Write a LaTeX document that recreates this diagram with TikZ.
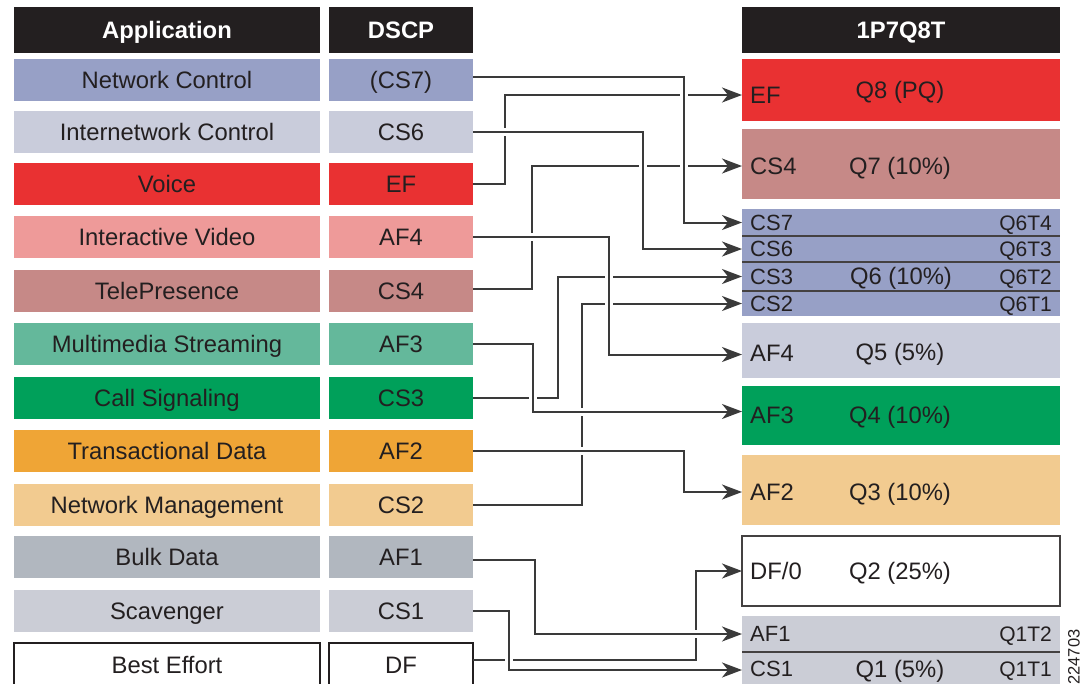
\documentclass[tikz,border=0pt]{standalone}
\usepackage{fontspec}
\setmainfont{Liberation Sans}
\usetikzlibrary{arrows.meta}
\definecolor{txt}{HTML}{231F20}
\definecolor{hdrc}{HTML}{231F20}
\definecolor{linec}{HTML}{3A3A3A}
\definecolor{cNC}{HTML}{97A0C6}
\definecolor{cIC}{HTML}{C9CCDB}
\definecolor{cVO}{HTML}{E93132}
\definecolor{cIV}{HTML}{EE9A99}
\definecolor{cTP}{HTML}{C68987}
\definecolor{cMS}{HTML}{64B89B}
\definecolor{cCS}{HTML}{00A05A}
\definecolor{cTD}{HTML}{EFA536}
\definecolor{cNM}{HTML}{F2CB90}
\definecolor{cBD}{HTML}{B1B7BF}
\definecolor{cSC}{HTML}{CBCDD6}
\newcommand{\fsA}{\fontsize{23.8}{28}\selectfont}
\newcommand{\fsB}{\fontsize{22}{26}\selectfont}
\newcommand{\fsC}{\fontsize{21}{25}\selectfont}
\begin{document}
\begin{tikzpicture}[x=1pt,y=-1pt,
  box/.style={rectangle, inner sep=0pt, outer sep=0pt, anchor=north west, text=txt, font=\fsA, text height=16.8pt, text depth=0pt},
  hdr/.style={box, fill=hdrc, text=white, font=\fsA\bfseries, minimum height=46pt},
  appw/.style={box, minimum width=306pt, minimum height=42pt},
  dscpw/.style={box, minimum width=144pt, minimum height=42pt},
  qbox/.style={box, minimum width=318pt},
  lbl/.style={anchor=west, inner sep=0pt, text=txt, font=\fsA, text height=16.8pt, text depth=0pt},
  slbl/.style={lbl, font=\fsB, text height=15.8pt},
  qlbl/.style={anchor=center, inner sep=0pt, text=txt, font=\fsA, text height=16.8pt, text depth=0pt},
  tlbl/.style={anchor=east, inner sep=0pt, text=txt, font=\fsC, text height=15pt, text depth=0pt},
  sep/.style={draw=txt!85, line width=1.4pt},
  conn/.style={draw=linec, line width=2pt, -{Stealth[length=20pt,width=15pt,inset=6pt]}},
  over/.style={conn, preaction={draw=white, line width=8pt, -}}
]
\useasboundingbox (0,0) rectangle (1084,683);

% headers
\node[hdr, minimum width=306pt] (happ) at (14,7) {Application};
\node[hdr, minimum width=144pt] (hdscp) at (329,7) {DSCP};
\node[hdr, minimum width=318pt] (hq) at (742,7) {1P7Q8T};

% application column
\node[appw, fill=cNC] (a1) at (14,59) {Network Control};
\node[appw, fill=cIC] (a2) at (14,111) {Internetwork Control};
\node[appw, fill=cVO] (a3) at (14,163) {Voice};
\node[appw, fill=cIV] (a4) at (14,216) {Interactive Video};
\node[appw, fill=cTP] (a5) at (14,270) {TelePresence};
\node[appw, fill=cMS] (a6) at (14,323) {Multimedia Streaming};
\node[appw, fill=cCS] (a7) at (14,377) {Call Signaling};
\node[appw, fill=cTD] (a8) at (14,430) {Transactional Data};
\node[appw, fill=cNM] (a9) at (14,484) {Network Management};
\node[appw, fill=cBD] (a10) at (14,536) {Bulk Data};
\node[appw, fill=cSC] (a11) at (14,590) {Scavenger};
\node[appw, fill=white, draw=txt, line width=1.4pt, minimum height=44pt] (a12) at (14,643) {Best Effort};

% dscp column
\node[dscpw, fill=cNC] (d1) at (329,59) {(CS7)};
\node[dscpw, fill=cIC] (d2) at (329,111) {CS6};
\node[dscpw, fill=cVO] (d3) at (329,163) {EF};
\node[dscpw, fill=cIV] (d4) at (329,216) {AF4};
\node[dscpw, fill=cTP] (d5) at (329,270) {CS4};
\node[dscpw, fill=cMS] (d6) at (329,323) {AF3};
\node[dscpw, fill=cCS] (d7) at (329,377) {CS3};
\node[dscpw, fill=cTD] (d8) at (329,430) {AF2};
\node[dscpw, fill=cNM] (d9) at (329,484) {CS2};
\node[dscpw, fill=cBD] (d10) at (329,536) {AF1};
\node[dscpw, fill=cSC] (d11) at (329,590) {CS1};
\node[dscpw, fill=white, draw=txt, line width=1.4pt, minimum height=44pt] (d12) at (329,643) {DF};

% queue column
\node[qbox, fill=cVO, minimum height=62pt] (q8) at (742,59) {};
\node[qbox, fill=cTP, minimum height=70pt] (q7) at (742,129) {};
\node[qbox, fill=cNC, minimum height=27pt] (r7) at (742,209) {};
\node[qbox, fill=cNC, minimum height=26pt] (r6) at (742,236) {};
\node[qbox, fill=cNC, minimum height=29pt] (r3) at (742,262) {};
\node[qbox, fill=cNC, minimum height=25pt] (r2) at (742,291) {};
\node[qbox, fill=cIC, minimum height=55pt] (q5) at (742,323) {};
\node[qbox, fill=cCS, minimum height=59pt] (q4) at (742,386) {};
\node[qbox, fill=cNM, minimum height=70pt] (q3) at (742,455) {};
\node[qbox, fill=white, draw=txt!85, line width=1.4pt, minimum height=70pt] (q2) at (742,536) {};
\node[qbox, fill=cSC, minimum height=36pt] (r12) at (742,616) {};
\node[qbox, fill=cSC, minimum height=40pt] (r11) at (742,652) {};
\draw[sep] (r7.south west) -- (r7.south east);
\draw[sep] (r6.south west) -- (r6.south east);
\draw[sep] (r3.south west) -- (r3.south east);
\draw[sep] (r12.south west) -- (r12.south east);

% queue labels
\node[lbl] (lef) at ([xshift=8pt,yshift=-5pt]q8.west) {EF};
\node[qlbl] (nq8) at ([xshift=-1pt]q8.center) {Q8 (PQ)};
\node[lbl] (lcs4) at ([xshift=8pt,yshift=-2pt]q7.west) {CS4};
\node[qlbl] (nq7) at ([xshift=-1pt,yshift=-2pt]q7.center) {Q7 (10\%)};
\node[slbl] (lcs7) at ([xshift=8pt]r7.west) {CS7};
\node[tlbl] (t64) at ([xshift=-8pt]r7.east) {Q6T4};
\node[slbl] (lcs6) at ([xshift=8pt]r6.west) {CS6};
\node[tlbl] (t63) at ([xshift=-8pt]r6.east) {Q6T3};
\node[slbl] (lcs3) at ([xshift=8pt]r3.west) {CS3};
\node[qlbl] (nq6) at ([xshift=0pt]r3.center) {Q6 (10\%)};
\node[tlbl] (t62) at ([xshift=-8pt]r3.east) {Q6T2};
\node[slbl] (lcs2) at ([xshift=8pt]r2.west) {CS2};
\node[tlbl] (t61) at ([xshift=-8pt]r2.east) {Q6T1};
\node[lbl] (laf4) at ([xshift=8pt,yshift=-3pt]q5.west) {AF4};
\node[qlbl] (nq5) at ([xshift=-1pt,yshift=-2pt]q5.center) {Q5 (5\%)};
\node[lbl] (laf3) at ([xshift=8pt]q4.west) {AF3};
\node[qlbl] (nq4) at ([xshift=-1pt]q4.center) {Q4 (10\%)};
\node[lbl] (laf2) at ([xshift=8pt,yshift=-2pt]q3.west) {AF2};
\node[qlbl] (nq3) at ([xshift=-1pt,yshift=-2pt]q3.center) {Q3 (10\%)};
\node[lbl] (ldf) at ([xshift=8pt]q2.west) {DF/0};
\node[qlbl] (nq2) at ([xshift=-1pt]q2.center) {Q2 (25\%)};
\node[slbl] (laf1) at ([xshift=8pt]r12.west) {AF1};
\node[tlbl] (t12) at ([xshift=-8pt]r12.east) {Q1T2};
\node[slbl] (lcs1) at ([xshift=8pt,yshift=3pt]r11.west) {CS1};
\node[qlbl] (nq1) at ([xshift=-1pt,yshift=3pt]r11.center) {Q1 (5\%)};
\node[tlbl] (t11) at ([xshift=-8pt,yshift=3pt]r11.east) {Q1T1};

% figure id
\node[rotate=90, inner sep=0pt, text=txt, font=\fontsize{16.5}{20}\selectfont] (fid) at (1074,657) {224703};

% connectors passing under
\draw[conn] (d3.east) -| ([xshift=-237pt,yshift=-5pt]q8.west) -- ([yshift=-5pt]q8.west);
\draw[conn] ([yshift=2pt]d5.east) -| ([xshift=-210pt,yshift=-2pt]q7.west) -- ([yshift=-2pt]q7.west);
\draw[conn] (d7.east) -| ([xshift=-184pt]r3.west) -- (r3.west);
\draw[conn] (d9.east) -| ([xshift=-160pt]r2.west) -- (r2.west);
\draw[conn] ([yshift=5pt]d12.east) -| ([xshift=-46pt]q2.west) -- (q2.west);

% connectors passing over
\draw[over] ([yshift=3pt]d1.east) -| ([xshift=-58pt]r7.west) -- (r7.west);
\draw[over] (d2.east) -| ([xshift=-99pt]r6.west) -- (r6.west);
\draw[over] (d4.east) -| ([xshift=-133pt,yshift=-4pt]q5.west) -- ([yshift=-4pt]q5.west);
\draw[over] (d6.east) -| ([xshift=-209pt,yshift=4pt]q4.west) -- ([yshift=4pt]q4.west);
\draw[over] (d8.east) -| ([xshift=-58pt,yshift=-2pt]q3.west) -- ([yshift=-2pt]q3.west);
\draw[over] ([yshift=-3pt]d10.east) -| ([xshift=-207pt]r12.west) -- (r12.west);
\draw[over] (d11.east) -| ([xshift=-233pt,yshift=2pt]r11.west) -- ([yshift=2pt]r11.west);
\end{tikzpicture}
\end{document}
